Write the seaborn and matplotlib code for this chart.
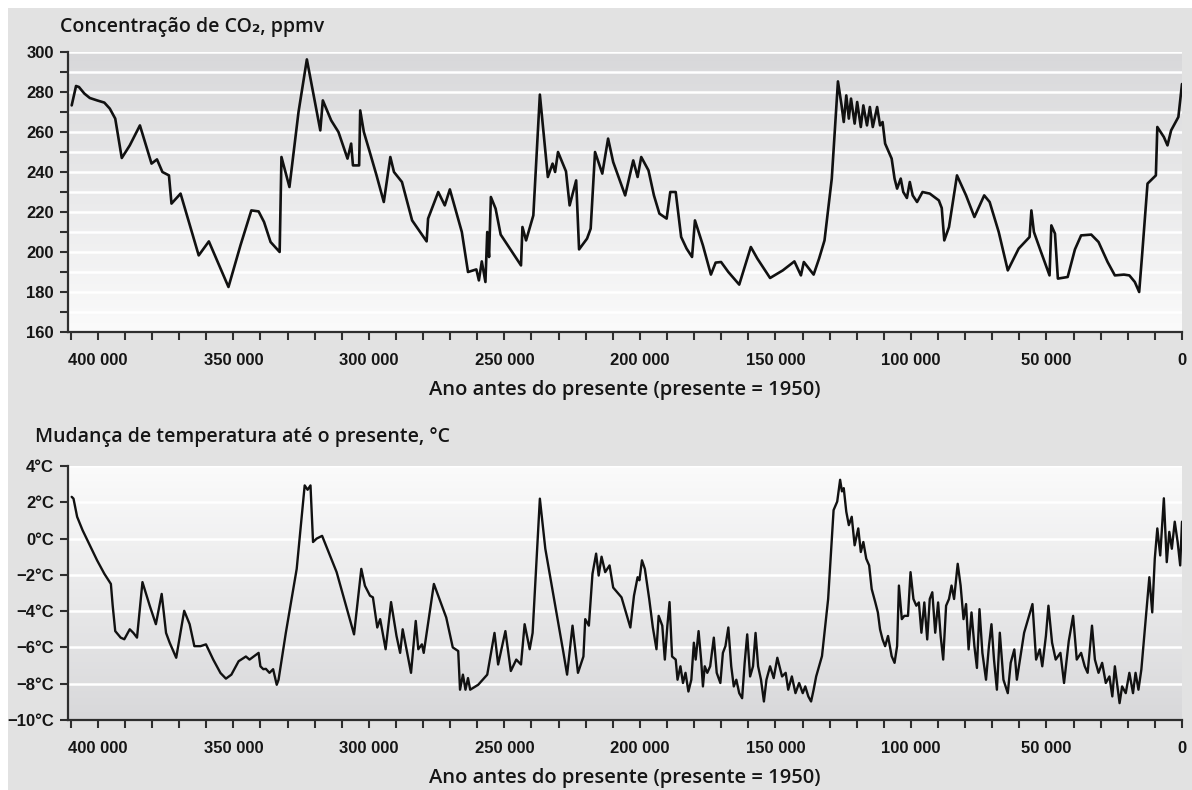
import numpy as np
import pandas as pd
import matplotlib
matplotlib.use("Agg")
import matplotlib.pyplot as plt
from matplotlib.ticker import MultipleLocator, FuncFormatter
from matplotlib.patches import Rectangle
from matplotlib.colors import to_rgb
import seaborn as sns

# Vostok ice core: CO2 concentration (ppmv) by years before present
co2_years = [409640, 408034, 406963, 404954, 402946, 400268, 397590, 395581, 393573, 391163,
             388217, 384468, 380183, 378174, 376166, 373756, 372819, 369471, 362776, 359027,
             351796, 347378, 343360, 340682, 338674, 336264, 332916, 332247, 329301, 325953,
             322874, 320597, 317919, 316982, 313902, 311224, 307877, 306538, 305868, 303592,
             303191, 301852, 299843, 297165, 294487, 292077, 290738, 287792, 284043, 278687,
             278151, 274402, 271992, 270117, 265698, 263422, 260342, 259405, 258334, 256995,
             256325, 255655, 254986, 253245, 251371, 243872, 243337, 241998, 239320, 236910,
             233964, 232223, 231286, 230215, 227269, 225930, 223520, 222448, 219503, 218164,
             216557, 213879, 211736, 209862, 205443,
             202457, 200850, 199511, 196833, 194825, 192816, 190138, 188799, 186791, 184782,
             182774, 180765, 179694, 176748, 173802, 172062, 170053, 167375, 163358, 159073,
             156663, 151977, 147290, 143005, 140595, 139524, 135909, 133900, 131892, 129214,
             126937, 125598, 124795, 123858, 122920, 122117, 120778, 119840, 118501, 117564,
             116225, 115154, 114083, 112476, 111405, 110468, 109530, 107120, 106049, 105112,
             103773, 102835, 101496, 100425, 99354, 97747, 95739, 93061, 89713, 88642,
             87705, 85964, 83018, 79671, 76591, 72976, 70967, 67620, 64272, 60255,
             56238, 55569, 54631, 52221, 48874, 48204, 46865, 45794, 42179, 39501,
             37224, 33475, 30797, 27450, 24772, 21424, 19416, 17407, 15800, 14729,
             12721, 9641, 9105, 6695, 5356, 4017, 1339, 0]
co2_ppmv = [273.3, 283.0, 282.5, 279.2, 277.0, 275.8, 274.7, 271.7, 266.7, 247.0,
            253.3, 263.3, 244.2, 246.3, 240.0, 238.3, 224.2, 229.2, 198.3, 205.3,
            182.5, 203.3, 220.8, 220.3, 215.0, 205.0, 200.0, 247.5, 232.5, 270.0,
            296.3, 280.0, 260.8, 275.8, 265.8, 260.0, 246.7, 254.2, 243.3, 243.3,
            270.8, 260.0, 250.8, 238.3, 225.0, 247.5, 240.0, 235.0, 215.8, 205.3,
            216.7, 230.0, 223.3, 231.3, 210.0, 190.0, 191.3, 185.8, 195.3, 185.0,
            210.0, 197.5, 227.5, 221.7, 208.7, 193.3, 212.5, 205.8, 218.3, 278.7,
            237.5, 244.2, 240.0, 250.0, 240.3, 223.3, 235.8, 201.3, 206.7, 211.7,
            250.0, 239.2, 256.7, 245.0, 228.3,
            245.8, 237.5, 247.5, 240.8, 228.3, 219.2, 216.7, 230.0, 230.0, 207.5,
            201.7, 197.5, 215.8, 203.3, 188.7, 194.7, 195.0, 190.0, 183.7, 202.5,
            196.7, 187.0, 190.8, 195.3, 188.3, 195.0, 188.7, 196.7, 205.8, 236.7,
            285.3, 273.3, 265.0, 278.3, 266.7, 276.7, 264.2, 275.0, 262.5, 273.3,
            263.3, 272.5, 262.5, 272.5, 263.3, 265.0, 254.2, 246.7, 236.7, 231.7,
            236.7, 230.0, 227.0, 235.0, 228.3, 225.0, 230.0, 229.2, 225.8, 222.0,
            205.8, 212.5, 238.3, 228.3, 217.5, 228.3, 225.0, 210.0, 190.8, 201.7,
            207.5, 220.8, 210.0, 200.8, 188.3, 213.3, 209.2, 186.7, 187.5, 201.3,
            208.3, 208.7, 205.0, 195.0, 188.3, 188.7, 188.3, 185.0, 180.0, 198.3,
            234.2, 238.3, 262.5, 257.5, 253.3, 260.8, 267.5, 284.0]

# Temperature change relative to present (deg C)
temp_years = [409640, 408971, 407632, 405624, 402946, 400268, 397590, 395180, 394510, 393573,
              391564, 390225, 388217, 386878, 385539, 383530, 380852, 378576, 376434, 374827,
              373488, 371078, 368132, 366124, 364383, 362107, 360098, 357420, 354742, 352733,
              350725, 348047, 345369, 344030, 340682, 340013, 338942, 338004, 336665, 335326,
              333987, 333318, 330640, 326623, 323677, 322606, 321535, 320597, 319258, 317250,
              311894, 305467, 302789, 301450, 299575, 298504, 296897, 295826, 293817, 291809,
              289800, 288461, 287524, 284444, 282704, 281766, 280427, 279758, 276009, 271456,
              269046, 267037, 266368, 265297, 264360, 263422, 262619, 259673, 256325, 253647,
              252308, 249630, 247622, 245613, 243872, 242533, 240659, 239588, 236910, 234901,
              228206, 226867, 224859, 222850, 220841, 220172, 218833, 217494, 216155, 215218,
              214147, 212808, 211201, 209862, 206782,
              203528, 202189, 200850, 200181, 199243, 198172, 196565, 195226, 193887, 193084,
              191745, 190808, 189870, 189067, 188130, 186791, 186121, 185050, 184113, 183175,
              182104, 181033, 180096, 179426, 178355, 177418, 176748, 176079, 175141, 174070,
              172731, 171660, 170321, 169384, 168446, 167375, 166304, 165366, 164429, 163358,
              162287, 161350, 160412, 159341, 158270, 157333, 156395, 155324, 154253, 153316,
              151977, 150638, 149299, 147558, 146219, 145280, 143943, 142604, 141265, 139926,
              138988, 137867, 136846, 135909, 134971, 133900, 132829, 130553, 128544, 127205,
              126134, 125464, 124795, 123858, 122920, 121849, 120778, 119439, 118501, 117564,
              116493, 115422, 114485, 113146, 112208, 111405, 110468, 109530, 108459, 107120,
              106049, 105112, 104442, 103371, 102434, 101095, 100157, 99086, 98015, 97078,
              96140, 95069, 93998, 93061, 92123, 91052, 89981, 89044, 88106, 87035,
              85964, 85027, 84089, 82750, 81679, 80608, 79671, 78733, 77662, 76591,
              75654, 74716, 73645, 72306, 71235, 70298, 69360, 68289, 67218, 65879,
              64272, 63201, 61862, 60925, 58247, 55167, 53828, 52489, 51552, 50213,
              49275, 47936, 46597, 44857, 43518, 41777, 40170, 38831, 37224, 35885,
              34814, 33207, 32136, 30797, 29458, 28119, 26780, 25709, 24772, 23834,
              23031, 22094, 20755, 19416, 18077, 17139, 16068, 14997, 13390, 12051,
              10980, 10043, 9105, 8034, 6695, 5624, 4687, 3749, 2678, 1607,
              670, 0]
temp_change = [2.3, 2.2, 1.2, 0.46, -0.37, -1.2, -1.94, -2.5, -3.7, -5.1,
               -5.46, -5.55, -5.0, -5.2, -5.46, -2.4, -3.7, -4.72, -3.05, -5.2,
               -5.74, -6.57, -3.98, -4.72, -5.93, -5.93, -5.83, -6.67, -7.41, -7.72,
               -7.5, -6.76, -6.5, -6.67, -6.3, -7.04, -7.2, -7.18, -7.4, -7.2,
               -8.06, -7.78, -5.2, -1.67, 2.93, 2.69, 2.93, -0.19, 0.0, 0.15,
               -1.85, -5.28, -1.67, -2.6, -3.15, -3.24, -4.9, -4.44, -6.1, -3.5,
               -5.37, -6.3, -5.0, -7.4, -4.54, -6.1, -5.83, -6.3, -2.5, -4.35,
               -6.0, -6.2, -8.33, -7.5, -8.33, -7.69, -8.33, -8.06, -7.5, -5.2,
               -6.94, -5.1, -7.3, -6.67, -6.94, -4.72, -6.1, -5.2, 2.2, -0.56,
               -6.3, -7.5, -4.8, -7.4, -6.5, -4.44, -4.8, -1.94, -0.83, -2.04,
               -1.0, -1.85, -1.48, -2.7, -3.24,
               -4.9, -3.15, -2.13, -2.3, -1.2, -1.67, -3.33, -4.9, -6.1, -4.26,
               -4.8, -6.67, -4.8, -3.5, -6.5, -6.67, -7.78, -7.04, -7.96, -7.4,
               -8.43, -7.78, -5.74, -6.67, -5.1, -6.67, -8.15, -7.04, -7.4, -7.04,
               -5.46, -7.4, -7.96, -6.3, -5.93, -4.9, -7.04, -8.15, -7.78, -8.52,
               -8.8, -6.85, -5.28, -7.6, -7.04, -5.2, -7.04, -7.78, -8.98, -7.78,
               -7.04, -7.69, -6.57, -7.6, -7.4, -8.33, -7.6, -8.52, -7.96, -8.52,
               -8.15, -8.7, -8.98, -8.33, -7.6, -7.04, -6.48, -3.33, 1.57, 2.04,
               3.24, 2.6, 2.78, 1.48, 0.74, 1.2, -0.37, 0.56, -0.74, -0.19,
               -1.11, -1.48, -2.78, -3.52, -4.07, -5.0, -5.56, -5.93, -5.37, -6.48,
               -6.85, -5.93, -2.59, -4.44, -4.26, -4.26, -1.85, -3.33, -3.7, -3.52,
               -5.19, -3.52, -5.56, -3.33, -2.96, -5.19, -3.52, -5.37, -6.67, -3.7,
               -3.33, -2.59, -3.33, -1.39, -2.59, -4.44, -3.61, -6.11, -4.07, -5.93,
               -7.13, -3.89, -6.3, -7.78, -5.93, -4.72, -6.67, -8.33, -5.19, -7.78,
               -8.52, -6.85, -6.11, -7.78, -5.19, -3.61, -6.67, -6.11, -7.04, -5.37,
               -3.7, -5.74, -6.67, -6.3, -7.96, -5.65, -4.26, -6.67, -6.3, -7.04,
               -7.4, -4.8, -6.67, -7.4, -6.85, -7.96, -7.6, -8.7, -7.04, -8.15,
               -9.07, -8.15, -8.52, -7.4, -8.52, -7.4, -8.33, -7.22, -4.44, -2.13,
               -4.07, -1.11, 0.56, -0.93, 2.22, -1.3, 0.37, -0.56, 0.93, -0.19,
               -1.48, 0.93]

co2_ticks = [160, 180, 200, 220, 240, 260, 280, 300]
temp_ticks = [-10, -8, -6, -4, -2, 0, 2, 4]

co2_title = "Concentração de CO₂, ppmv"
temp_title = "Mudança de temperatura até o presente, °C"
x_title = "Ano antes do presente (presente = 1950)"

co2_df = pd.DataFrame({"ano": co2_years, "co2": co2_ppmv})
temp_df = pd.DataFrame({"ano": temp_years, "temp": temp_change})

sns.set_theme(style="ticks")
plt.rcParams["font.family"] = ["Liberation Sans", "DejaVu Sans"]

W, H = 1192, 790
fig = plt.figure(figsize=(W / 100, H / 100), dpi=100, facecolor="white")
# light grey panel behind everything, leaving a thin white margin top and left
fig.patches.append(Rectangle((8 / W, 0), 1, 1 - 8 / H, transform=fig.transFigure,
                             facecolor="#e2e2e2", edgecolor="none", zorder=-10))

ax1 = fig.add_axes([68 / W, (H - 332) / H, (1182 - 68) / W, (332 - 52) / H])
ax2 = fig.add_axes([68 / W, (H - 720) / H, (1182 - 68) / W, (720 - 466) / H])

ink = "#151515"
spine_c = "#2e2e2e"
title_font = ["Open Sans", "DejaVu Sans"]


def gradient(ax, top, bottom):
    t = np.linspace(0, 1, 256)[:, None, None]
    img = np.array(to_rgb(top))[None, None, :] * (1 - t) + np.array(to_rgb(bottom))[None, None, :] * t
    ax.imshow(img, extent=[0, 1, 0, 1], transform=ax.transAxes, aspect="auto",
              origin="upper", zorder=0, interpolation="bilinear")


def year_fmt(v, pos):
    return f"{int(round(v)):,}".replace(",", " ")


for ax in (ax1, ax2):
    ax.set_facecolor("none")
    for side in ("top", "right"):
        ax.spines[side].set_visible(False)
    for side in ("left", "bottom"):
        ax.spines[side].set_color(spine_c)
        ax.spines[side].set_linewidth(1.6)
        ax.spines[side].set_zorder(5)
    ax.tick_params(axis="both", which="both", direction="out", length=6, width=1.5,
                   color=spine_c, labelcolor=ink, labelsize=12)
    ax.tick_params(axis="x", which="major", pad=9)
    ax.tick_params(axis="y", which="major", pad=4)

gradient(ax1, "#d8d8da", "#fbfbfb")
gradient(ax2, "#fbfbfb", "#d8d8da")

sns.lineplot(data=co2_df, x="ano", y="co2", ax=ax1, color="#111111", linewidth=1.9,
             estimator=None, sort=False, zorder=4)
sns.lineplot(data=temp_df, x="ano", y="temp", ax=ax2, color="#111111", linewidth=1.7,
             estimator=None, sort=False, zorder=4)

for ax in (ax1, ax2):
    ax.set_xlim(411000, 0)
    ax.xaxis.set_major_locator(MultipleLocator(50000))
    ax.xaxis.set_minor_locator(MultipleLocator(10000))
    ax.xaxis.set_major_formatter(FuncFormatter(year_fmt))
    ax.set_xlabel(x_title, fontsize=14.5, color=ink, labelpad=9,
                  family=title_font, fontweight="semibold")
    ax.set_ylabel("")
    for lab in ax.get_xticklabels() + ax.get_yticklabels():
        lab.set_fontweight("bold")

ax1.set_ylim(160, 300)
ax1.set_yticks(co2_ticks)
ax1.yaxis.set_minor_locator(MultipleLocator(10))
ax1.set_yticklabels([str(v) for v in co2_ticks], fontweight="bold")
ax1.grid(True, axis="y", which="both", color="white", linewidth=1.8, zorder=1)

ax2.set_ylim(-10, 4)
ax2.set_yticks(temp_ticks)
ax2.set_yticklabels([f"{v}°C".replace("-", "−") for v in temp_ticks], fontweight="bold")
ax2.grid(True, axis="y", which="major", color="white", linewidth=1.8, zorder=1)

for ax in (ax1, ax2):
    ax.set_axisbelow(True)

fig.text(60 / W, 1 - 27 / H, co2_title, ha="left", va="center", fontsize=14, color=ink,
         family=title_font, fontweight="semibold")
fig.text(35 / W, 1 - 437 / H, temp_title, ha="left", va="center", fontsize=14, color=ink,
         family=title_font, fontweight="semibold")

fig.savefig("out.png", dpi=100, facecolor=fig.get_facecolor())
